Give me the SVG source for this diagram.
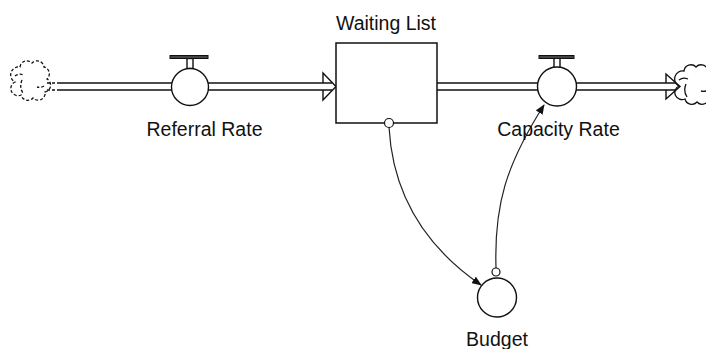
<svg xmlns="http://www.w3.org/2000/svg" width="706" height="349" viewBox="0 0 706 349">
  <style>
    .ln { stroke: #111; stroke-width: 1.3; fill: none; }
    .pipe { stroke: #111; stroke-width: 1.4; fill: none; }
    .dash { stroke-dasharray: 3 2; }
    .valve { fill: #fff; stroke: #111; stroke-width: 1.4; }
    .stock { fill: #fff; stroke: #111; stroke-width: 1.5; }
    .lbl { font-family: "Liberation Sans", Arial, sans-serif; font-size: 19.5px; fill: #111; text-anchor: middle; }
    .link { stroke: #222; stroke-width: 1.2; fill: none; }
    .tap { fill: #fff; stroke: #111; stroke-width: 1.2; }
  </style>
  <defs>
    <marker id="ah" viewBox="0 0 10 8" refX="9" refY="4" markerWidth="10" markerHeight="8" markerUnits="userSpaceOnUse" orient="auto">
      <path d="M0,0 L10,4 L0,8 Z" fill="#111"/>
    </marker>
    <!-- scalloped cloud outline with its inner folds -->
    <path id="cloudShape" d="M20,67 a7,7 0 0 1 12,-4 a7,7 0 0 1 12,4 a7,7 0 0 1 3,12 a7,7 0 0 1 -2,13 a7,7 0 0 1 -12,6 a7,7 0 0 1 -12,-3 a7,7 0 0 1 -6,-13 a8,8 0 0 1 5,-15 z M15,76 q4,-3 9,-1 M22,80 q-3,7 1,13 M44,86 q-3,2 -7,1"/>
  </defs>
  <rect width="706" height="349" fill="#fff"/>

  <g id="connectors">
    <!-- inflow pipe -->
    <line class="pipe dash" x1="47" y1="83" x2="58" y2="83"/>
    <line class="pipe dash" x1="47" y1="90" x2="58" y2="90"/>
    <line class="pipe" x1="58" y1="83" x2="332" y2="83"/>
    <line class="pipe" x1="58" y1="90" x2="332" y2="90"/>
    <polyline class="pipe" points="323,83 323,73 336,86.5 323,100 323,90"/>
    <!-- outflow pipe -->
    <line class="pipe" x1="437" y1="83" x2="676" y2="83"/>
    <line class="pipe" x1="437" y1="90" x2="676" y2="90"/>
    <polyline class="pipe" points="666,83 666,74 680,86.5 666,99 666,90"/>
    <!-- information links -->
    <path class="link" d="M389,127 C393,200 430,250 481,285" marker-end="url(#ah)"/>
    <path class="link" d="M496,268 C494,205 506,165 544,105" marker-end="url(#ah)"/>
  </g>

  <g id="source">
    <use href="#cloudShape" class="ln dash"/>
  </g>

  <g id="sink">
    <use href="#cloudShape" class="ln" transform="translate(664,4)"/>
  </g>

  <g id="referral-rate">
    <rect x="187" y="58.5" width="6" height="10" class="valve" stroke-width="1.2"/>
    <rect x="170" y="55.5" width="38" height="3" fill="#444" stroke="#111" stroke-width="1"/>
    <circle cx="190" cy="87" r="18.5" class="valve"/>
    <text class="lbl" x="204.5" y="136">Referral Rate</text>
  </g>

  <g id="waiting-list">
    <rect x="336" y="43" width="101" height="80" class="stock"/>
    <text class="lbl" x="386" y="30">Waiting List</text>
    <circle cx="389" cy="123" r="4.5" class="tap"/>
  </g>

  <g id="capacity-rate">
    <rect x="554" y="58" width="6" height="10" class="valve" stroke-width="1.2"/>
    <rect x="539" y="55.5" width="35" height="3" fill="#444" stroke="#111" stroke-width="1"/>
    <circle cx="557" cy="86.5" r="19.5" class="valve"/>
    <text class="lbl" x="558.5" y="136">Capacity Rate</text>
  </g>

  <g id="budget">
    <circle cx="497" cy="297.5" r="19.5" class="valve"/>
    <circle cx="496" cy="272" r="4" class="tap"/>
    <text class="lbl" x="497" y="346">Budget</text>
  </g>
</svg>
